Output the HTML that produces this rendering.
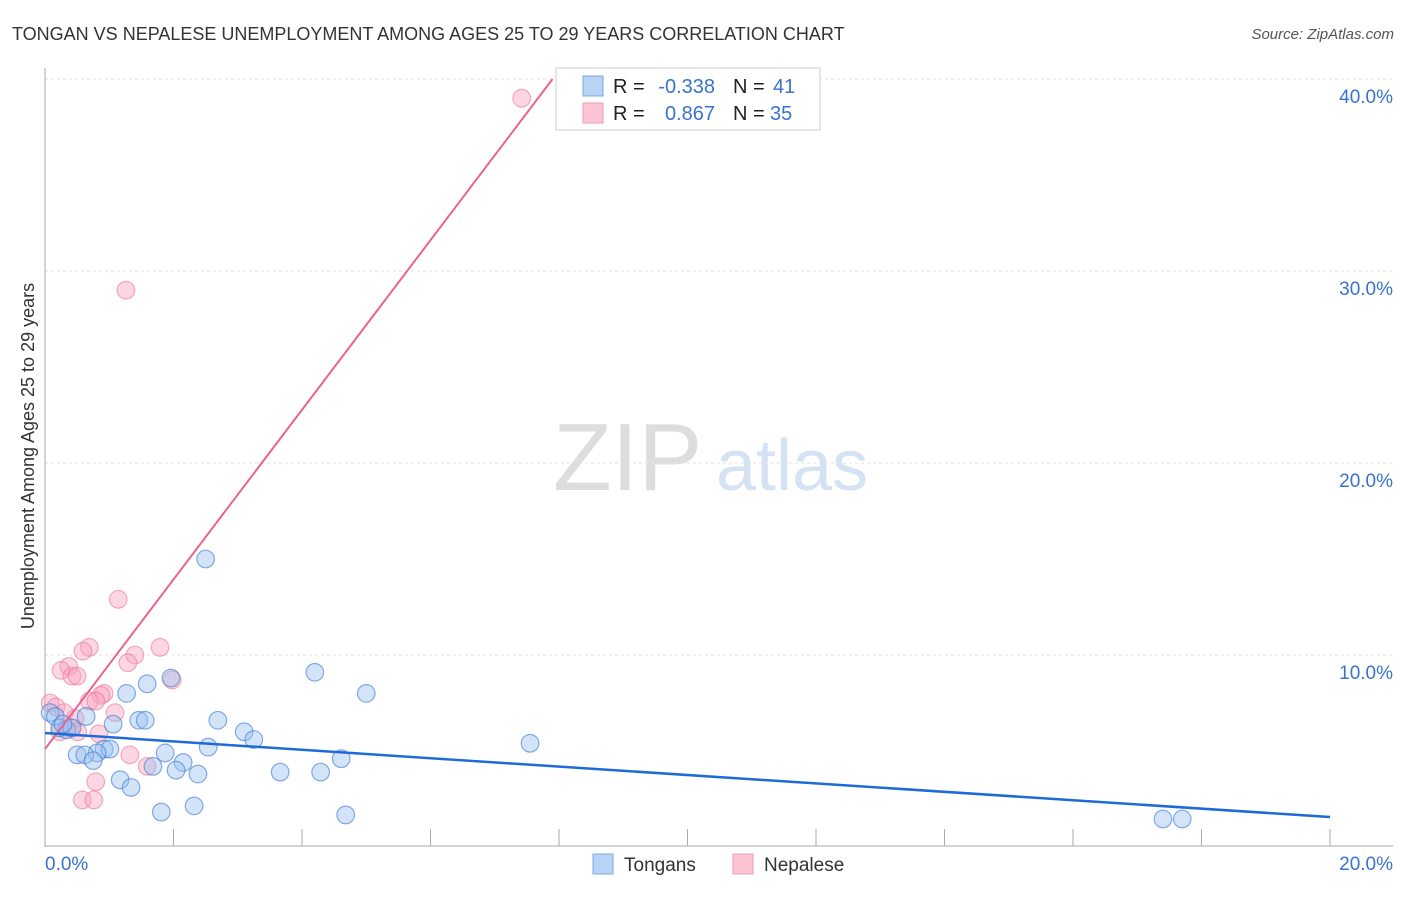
<!DOCTYPE html>
<html><head><meta charset="utf-8"><style>
body{margin:0;background:#fff;font-family:"Liberation Sans",sans-serif}
svg text{font-family:"Liberation Sans",sans-serif}
</style></head><body>
<svg id="chart" width="1406" height="892" xmlns="http://www.w3.org/2000/svg">
<text x="12" y="40" font-size="18" fill="#333">TONGAN VS NEPALESE UNEMPLOYMENT AMONG AGES 25 TO 29 YEARS CORRELATION CHART</text>
<text x="1394" y="39" font-size="15" fill="#555" font-style="italic" text-anchor="end">Source: ZipAtlas.com</text>
<text x="34" y="456" font-size="18" fill="#333" text-anchor="middle" transform="rotate(-90 34 456)">Unemployment Among Ages 25 to 29 years</text>
<g><text x="553" y="490" font-size="96" fill="#ddd" font-family="Liberation Serif">ZIP</text><text x="716" y="490" font-size="72" fill="#d5e2f4">atlas</text></g>
<g id="grid"></g><g id="axes"></g><g id="pts"></g><g id="lines"></g>
<g>
<rect x="556" y="68" width="264" height="62" fill="#fff" stroke="#ccc"/>
<rect x="583" y="76" width="20" height="20" fill="#b9d3f5" stroke="#7aa7e6"/>
<rect x="583" y="103" width="20" height="20" fill="#fcc5d6" stroke="#f09ab5"/>
<text x="613" y="93" font-size="20" fill="#222">R =</text>
<text x="715" y="93" font-size="20" fill="#3a72d0" text-anchor="end">-0.338</text>
<text x="733" y="93" font-size="20" fill="#222">N =</text>
<text x="773" y="93" font-size="20" fill="#3a72d0">41</text>
<text x="613" y="120" font-size="20" fill="#222">R =</text>
<text x="715" y="120" font-size="20" fill="#3a72d0" text-anchor="end">0.867</text>
<text x="733" y="120" font-size="20" fill="#222">N =</text>
<text x="770" y="120" font-size="20" fill="#3a72d0">35</text>
</g>
<g>
<rect x="593" y="854" width="20" height="20" fill="#b9d3f5" stroke="#7aa7e6"/>
<text x="624" y="871" font-size="19" fill="#333">Tongans</text>
<rect x="733" y="854" width="20" height="20" fill="#fcc5d6" stroke="#f09ab5"/>
<text x="764" y="871" font-size="19" fill="#333">Nepalese</text>
</g>
</svg>
<script>
const yTicks=[10,20,30,40];
const yTickLabels=["10.0%","20.0%","30.0%","40.0%"];
const xTicks=[0,2,4,6,8,10,12,14,16,18,20];
const tonX=[2.5,4.2,5.0,7.55,17.4,17.7,1.27,1.59,1.96,1.46,1.56,1.06,2.69,3.1,3.25,2.54,1.87,2.15,1.68,2.04,2.38,3.66,4.29,4.61,0.92,1.01,0.81,0.5,0.62,0.75,1.17,1.34,1.81,2.32,4.68,0.08,0.16,0.23,0.34,0.42,0.64,0.28];
const tonY=[15.0,9.1,8.0,5.4,1.46,1.46,8.0,8.5,8.8,6.6,6.6,6.4,6.6,6.0,5.6,5.2,4.9,4.4,4.2,4.0,3.8,3.9,3.9,4.6,5.1,5.1,4.9,4.8,4.8,4.5,3.5,3.1,1.82,2.14,1.67,7.0,6.8,6.2,6.1,6.2,6.8,6.4];
const nepX=[7.42,1.26,1.14,1.79,0.69,0.59,1.4,1.29,0.37,0.25,0.42,0.5,1.98,0.92,0.87,0.69,0.79,0.08,0.17,1.09,0.3,0.47,0.39,0.23,0.84,0.51,1.59,0.79,0.58,0.76,1.32];
const nepY=[39.0,29.0,12.9,10.4,10.4,10.2,10.0,9.6,9.4,9.2,8.9,8.9,8.7,8.0,7.9,7.6,7.6,7.5,7.3,7.0,7.0,6.7,6.2,6.0,5.9,6.0,4.2,3.4,2.45,2.45,4.8];
const tonLine=[[0,5.94],[20,1.56]];
const nepLine=[[0,5.1],[7.9,40]];
const X=v=>45+v*64.25, Y=v=>847-v*19.2;
const NS="http://www.w3.org/2000/svg";
function mk(t,a,p){const e=document.createElementNS(NS,t);for(const k in a)e.setAttribute(k,a[k]);p.appendChild(e);return e;}
const grid=document.getElementById('grid'),axes=document.getElementById('axes'),pts=document.getElementById('pts'),lines=document.getElementById('lines');
yTicks.forEach((v,i)=>{
 const l=mk('line',{x1:45,x2:1393,y1:Y(v),y2:Y(v),stroke:'#e2e2e2','stroke-dasharray':'3,3'},grid);
 
 
 const t=mk('text',{x:1393,y:Y(v)+24,'font-size':19,fill:'#3a72d0','text-anchor':'end'},axes);
 t.textContent=yTickLabels[i];
 
 
});
const topGrid=mk('line',{x1:45,x2:1393,y1:79,y2:79,stroke:'#e2e2e2','stroke-dasharray':'3,3'},grid);


const ya=mk('line',{x1:45,x2:45,y1:68,y2:847,stroke:'#aaa'},axes);


const xa=mk('line',{x1:45,x2:1393,y1:846,y2:846,stroke:'#aaa'},axes);


xTicks.forEach(v=>{
 const t=mk('line',{x1:X(v),x2:X(v),y1:829,y2:846,stroke:'#aaa'},axes);
 
 
});
[[0,'0.0%','start',45],[20,'20.0%','end',1393]].forEach(a=>{
 const t=mk('text',{x:a[3],y:870,'font-size':19,fill:'#3a72d0','text-anchor':a[2]},axes);
 t.textContent=a[1];
 
 
});
nepX.forEach((v,i)=>{
 const c=mk('circle',{cx:X(v),cy:Y(nepY[i]),r:8.8,fill:'rgba(247,160,188,0.42)',stroke:'rgba(235,120,155,0.6)','stroke-width':1.2},pts);
 
 
});
tonX.forEach((v,i)=>{
 const c=mk('circle',{cx:X(v),cy:Y(tonY[i]),r:8.8,fill:'rgba(150,190,240,0.42)',stroke:'rgba(60,120,210,0.6)','stroke-width':1.2},pts);
 
 
});
const nl=mk('line',{x1:X(nepLine[0][0]),y1:Y(nepLine[0][1]),x2:X(nepLine[1][0]),y2:Y(nepLine[1][1]),stroke:'#e8648f','stroke-width':2},lines);


const tl=mk('line',{x1:X(tonLine[0][0]),y1:Y(tonLine[0][1]),x2:X(tonLine[1][0]),y2:Y(tonLine[1][1]),stroke:'#1f6bd6','stroke-width':2.5},lines);


</script>
</body></html>
